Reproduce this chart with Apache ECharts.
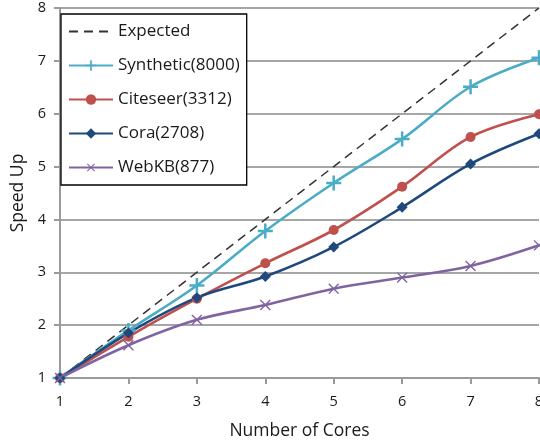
<!DOCTYPE html>
<html>
<head>
<meta charset="utf-8">
<script src="https://cdn.jsdelivr.net/npm/echarts@6/dist/echarts.min.js"></script>
<style>
  html, body { margin: 0; padding: 0; background: #fff; }
  #chart { width: 540px; height: 442px; }
</style>
</head>
<body>
<div id="chart"></div>
<script>
// Speed-up per number of cores for each dataset
const cores = ['1', '2', '3', '4', '5', '6', '7', '8'];
const expected = [1, 2, 3, 4, 5, 6, 7, 8];
const synthetic = [1, 1.9, 2.75, 3.78, 4.69, 5.52, 6.51, 7.06];
const citeseer = [1, 1.78, 2.5, 3.17, 3.8, 4.62, 5.56, 5.99];
const cora = [1, 1.85, 2.52, 2.92, 3.48, 4.23, 5.05, 5.62];
const webkb = [1, 1.62, 2.1, 2.38, 2.69, 2.9, 3.12, 3.51];
const yTicks = [1, 8, 1]; // min, max, step

const FONT = 'Open Sans';
const PLUS = 'path://M5,0h2v5h5v2h-5v5h-2v-5h-5v-2h5z';
const THIN_PLUS = 'path://M5.4,0h1.2v5.4h5.4v1.2h-5.4v5.4h-1.2v-5.4h-5.4v-1.2h5.4z';

function dataSeries(name, values, color, symbol, size, rotate) {
  return {
    name: name,
    type: 'line',
    data: values,
    smooth: 0.35,
    symbol: symbol,
    symbolSize: size,
    symbolRotate: rotate || 0,
    showAllSymbol: true,
    lineStyle: { color: color, width: 2.6 },
    itemStyle: { color: color, borderWidth: 0 },
    z: 3
  };
}

const chart = echarts.init(document.getElementById('chart'), null, { renderer: 'canvas' });
chart.setOption({
  animation: false,
  backgroundColor: '#ffffff',
  grid: { left: 60, right: 1, top: 8, bottom: 64, containLabel: false, outerBoundsMode: 'none' },
  legend: {
    orient: 'vertical',
    left: 61,
    top: 14,
    padding: [9, 7, 9, 7],
    itemGap: 17,
    itemWidth: 44,
    itemHeight: 13,
    backgroundColor: '#ffffff',
    borderColor: '#000000',
    borderWidth: 1.3,
    textStyle: { fontFamily: FONT, fontSize: 17, color: '#1a1a1a' },
    data: [
      { name: 'Expected', itemStyle: { opacity: 0 } },
      'Synthetic(8000)', 'Citeseer(3312)', 'Cora(2708)', 'WebKB(877)'
    ]
  },
  xAxis: {
    type: 'category',
    data: cores,
    boundaryGap: false,
    name: 'Number of Cores',
    nameLocation: 'middle',
    nameGap: 44,
    nameTextStyle: { fontFamily: FONT, fontSize: 17.5, color: '#1a1a1a' },
    axisLine: { lineStyle: { color: '#9a9a9a', width: 2 } },
    axisTick: { show: true, alignWithLabel: true, length: 6, lineStyle: { color: '#9a9a9a', width: 2 } },
    axisLabel: { fontFamily: FONT, fontSize: 14.5, color: '#1a1a1a', margin: 16 },
    splitLine: { show: false }
  },
  yAxis: {
    type: 'value',
    min: yTicks[0],
    max: yTicks[1],
    interval: yTicks[2],
    name: 'Speed Up',
    nameLocation: 'middle',
    nameGap: 28,
    nameRotate: 90,
    nameTextStyle: { fontFamily: FONT, fontSize: 17.5, color: '#1a1a1a' },
    axisLine: { show: true, lineStyle: { color: '#9a9a9a', width: 2 } },
    axisTick: { show: true, length: 6, lineStyle: { color: '#9a9a9a', width: 2 } },
    axisLabel: { fontFamily: FONT, fontSize: 14.5, color: '#1a1a1a', margin: 14 },
    splitLine: { show: true, lineStyle: { color: '#a6a6a6', width: 2 } }
  },
  series: [
    {
      name: 'Expected',
      type: 'line',
      data: expected,
      symbol: 'none',
      lineStyle: { color: '#333333', width: 1.5, type: [9, 6] },
      itemStyle: { color: '#333333' },
      z: 2
    },
    dataSeries('Synthetic(8000)', synthetic, '#4bacc6', PLUS, 15),
    dataSeries('Citeseer(3312)', citeseer, '#c0504d', 'circle', 10),
    dataSeries('Cora(2708)', cora, '#1f497d', 'diamond', 11),
    dataSeries('WebKB(877)', webkb, '#8064a2', THIN_PLUS, 14, 45)
  ]
});
</script>
</body>
</html>
